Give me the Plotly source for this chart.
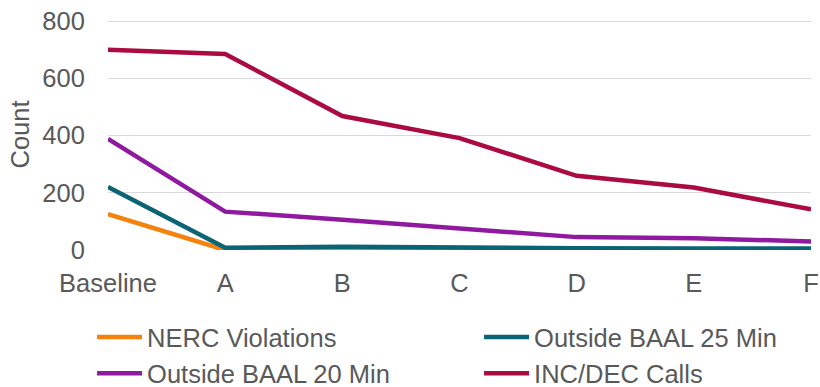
import plotly.graph_objects as go

categories = ["Baseline", "A", "B", "C", "D", "E", "F"]
nerc_violations = [125, 0, 1, 1, 1, 1, 1]
outside_baal_25 = [220, 8, 11, 7, 6, 5, 5]
outside_baal_20 = [388, 134, 106, 76, 45, 41, 30]
inc_dec_calls = [700, 685, 468, 391, 259, 218, 142]
y_ticks = [0, 200, 400, 600, 800]

series = [
    ("NERC Violations", nerc_violations, "#F5820D"),
    ("Outside BAAL 25 Min", outside_baal_25, "#0A6474"),
    ("Outside BAAL 20 Min", outside_baal_20, "#8F1AA0"),
    ("INC/DEC Calls", inc_dec_calls, "#AB0A42"),
]

fig = go.Figure()
for name, vals, color in series:
    fig.add_trace(go.Scatter(
        x=categories, y=vals, name=name, mode="lines",
        line=dict(color=color, width=4.5),
    ))

font = "Liberation Sans, Arial, sans-serif"
fs = 25.5
fig.update_layout(
    width=820, height=387,
    margin=dict(l=108, r=9, t=19, b=137, autoexpand=False),
    plot_bgcolor="white", paper_bgcolor="white",
    font=dict(family=font, size=fs, color="#595959"),
    showlegend=True,
    legend=dict(
        orientation="h", x=-0.0227, y=-0.277, xanchor="left", yanchor="top",
        entrywidth=327, entrywidthmode="pixels",
        font=dict(size=fs, color="#595959"),
        traceorder="normal", itemwidth=45, tracegroupgap=0,
        bgcolor="rgba(0,0,0,0)", borderwidth=0,
    ),
    xaxis=dict(
        type="category", range=[0, 6], showgrid=False, zeroline=False,
        showline=False, ticks="outside", ticklen=10, tickcolor="rgba(0,0,0,0)",
        tickfont=dict(size=fs, color="#595959"), automargin=False,
        ticklabeloverflow="allow",
    ),
    yaxis=dict(
        range=[0, 807], tickvals=y_ticks, showgrid=True,
        gridcolor="#D9D9D9", gridwidth=1.3, zeroline=False, showline=False,
        ticks="outside", ticklen=17, tickcolor="rgba(0,0,0,0)",
        tickfont=dict(size=fs, color="#595959"), automargin=False,
        ticklabeloverflow="allow",
        title=dict(text="Count", font=dict(size=fs, color="#595959"), standoff=5),
    ),
)

fig.write_html(
    "out.html",
    config={"displayModeBar": False},
    post_script="document.body.style.margin='0';document.body.style.overflow='hidden';",
)
